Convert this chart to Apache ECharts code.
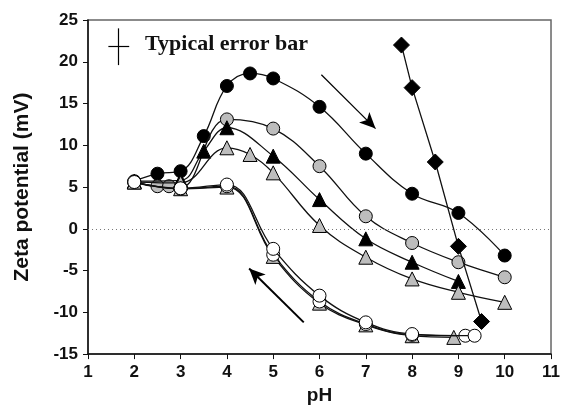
<!DOCTYPE html>
<html><head><meta charset="utf-8">
<script src="https://cdn.jsdelivr.net/npm/echarts@6/dist/echarts.min.js"></script>
<style>html,body{margin:0;padding:0;background:#fff}#c{width:563px;height:410px}</style>
</head><body><div id="c"></div>
<script>
// data (pH, zeta potential mV)
const blackCircles = [[2,5.7],[2.5,6.6],[3,6.9],[3.5,11.1],[4,17.1],[4.5,18.6],[5,18.0],[6,14.6],[7,9.0],[8,4.2],[9,1.9],[10,-3.2]];
const grayCircles = [[2,5.6],[2.5,5.1],[2.75,5.1],[3,4.9],[4,13.1],[5,12.0],[6,7.5],[7,1.5],[8,-1.7],[9,-4.0],[10,-5.8]];
const blackTriangles = [[2,5.7],[3,5.8],[3.5,9.3],[4,12.1],[5,8.7],[6,3.5],[7,-1.2],[8,-4.0],[9,-6.3]];
const grayTriangles = [[2,5.6],[3,5.5],[4,9.7],[4.5,8.9],[5,6.7],[6,0.4],[7,-3.4],[8,-6.0],[9,-7.6],[10,-8.8]];
const returnTriangles = [[8.9,-13.0],[8,-12.8],[7,-11.5],[6,-8.9],[5,-3.3],[4,5.0],[3,4.8],[2,5.6]];
const returnCirclesB = [[9.15,-12.8],[8,-12.7],[7,-11.4],[6,-8.7],[5,-3.1],[4,5.1],[3,4.8],[2,5.6]];
const returnCirclesA = [[9.35,-12.8],[8,-12.6],[7,-11.2],[6,-8.0],[5,-2.4],[4,5.3],[3,4.85],[2,5.6]];
const diamonds = [[7.77,22.0],[8,16.9],[8.5,8.0],[9,-2.1],[9.5,-11.1]];
const xTicks = [1,2,3,4,5,6,7,8,9,10,11];
const yTicks = [-15,-10,-5,0,5,10,15,20,25];
// annotations (data coords)
const arrowDown = [[6.04,18.45],[7.21,12.0]];
const arrowBack = [[5.66,-11.2],[4.48,-4.76]];
const errV = [[1.65,24.0],[1.65,19.6]];
const errH = [[1.44,21.9],[1.89,21.9]];

const chart = echarts.init(document.getElementById('c'), null, {renderer:'canvas'});
function ser(data, symbol, fill, size, smooth, z){
  return {type:'line', data, symbol, symbolSize:size, smooth:smooth,
    z, lineStyle:{color:'#111', width:1.3},
    itemStyle:{color:fill, borderColor:'#000', borderWidth:1}, emphasis:{disabled:true}, animation:false};
}
const series = [
  ser(blackCircles,'circle','#000',13,0.4,2),
  ser(grayCircles,'circle','#bdbdbd',13,0.4,3),
  ser(blackTriangles,'triangle','#000',14,0.4,4),
  ser(grayTriangles,'triangle','#bdbdbd',14,0.4,5),
  ser(returnTriangles,'triangle','#bdbdbd',14,0.4,6),
  ser(returnCirclesB,'circle','#fff',13,0.4,7),
  ser(returnCirclesA,'circle','#fff',13,0.4,8),
  ser(diamonds,'diamond','#000',16,false,9),
];
series.push({type:'line', data:[], z:1, animation:false,
  markLine:{silent:true, symbol:['none','none'], label:{show:false},
    lineStyle:{color:'#777', type:[1,3], width:1},
    data:[[{coord:[1,0]},{coord:[11,0]}]]}});
series.push({type:'line', data:[], z:10, animation:false,
  markLine:{silent:true, symbol:['none','none'], label:{show:false},
    lineStyle:{color:'#000', type:'solid', width:1.2},
    data:[[{coord:errV[0]},{coord:errV[1]}],[{coord:errH[0]},{coord:errH[1]}]]}});
series.push({type:'line', data:[], z:10, animation:false,
  markLine:{silent:true, symbol:['none','arrow'], symbolSize:[11,16], label:{show:false},
    data:[
      [{coord:arrowDown[0], lineStyle:{color:'#000',width:1.2,type:'solid'}},{coord:arrowDown[1]}],
      [{coord:arrowBack[0], lineStyle:{color:'#000',width:2,type:'solid'}},{coord:arrowBack[1]}]
    ]}});

chart.setOption({
  animation:false,
  grid:{left:88, right:9, top:20, bottom:54, show:true, borderColor:'#666', borderWidth:1.5},
  xAxis:{type:'value', min:1, max:11, interval:1, name:'pH', nameLocation:'middle', nameGap:31,
    nameTextStyle:{fontFamily:'Liberation Sans', fontWeight:'bold', fontSize:19, color:'#111'},
    axisLine:{show:true, onZero:false, lineStyle:{color:'#111', width:1.5}},
    axisTick:{show:true, inside:false, length:5, lineStyle:{color:'#111'}},
    axisLabel:{margin:10, fontFamily:'Liberation Sans', fontWeight:'bold', fontSize:17, color:'#111',
      formatter:v=>xTicks.includes(v)?String(v):''},
    splitLine:{show:false}},
  yAxis:{type:'value', min:-15, max:25, interval:5, name:'Zeta potential (mV)', nameLocation:'middle', nameGap:55,
    nameTextStyle:{fontFamily:'Liberation Sans', fontWeight:'bold', fontSize:21, color:'#111'},
    axisLine:{show:true, onZero:false, lineStyle:{color:'#111', width:1.5}},
    axisTick:{show:true, inside:false, length:5, lineStyle:{color:'#111'}},
    axisLabel:{margin:10, fontFamily:'Liberation Sans', fontWeight:'bold', fontSize:17, color:'#111',
      formatter:v=>yTicks.includes(v)?String(v):''},
    splitLine:{show:false}},
  graphic:[{type:'text', left:145, top:33, z:20,
    style:{text:'Typical error bar', font:'bold 22px "Liberation Serif"', fill:'#111'}}],
  series
});
</script></body></html>
